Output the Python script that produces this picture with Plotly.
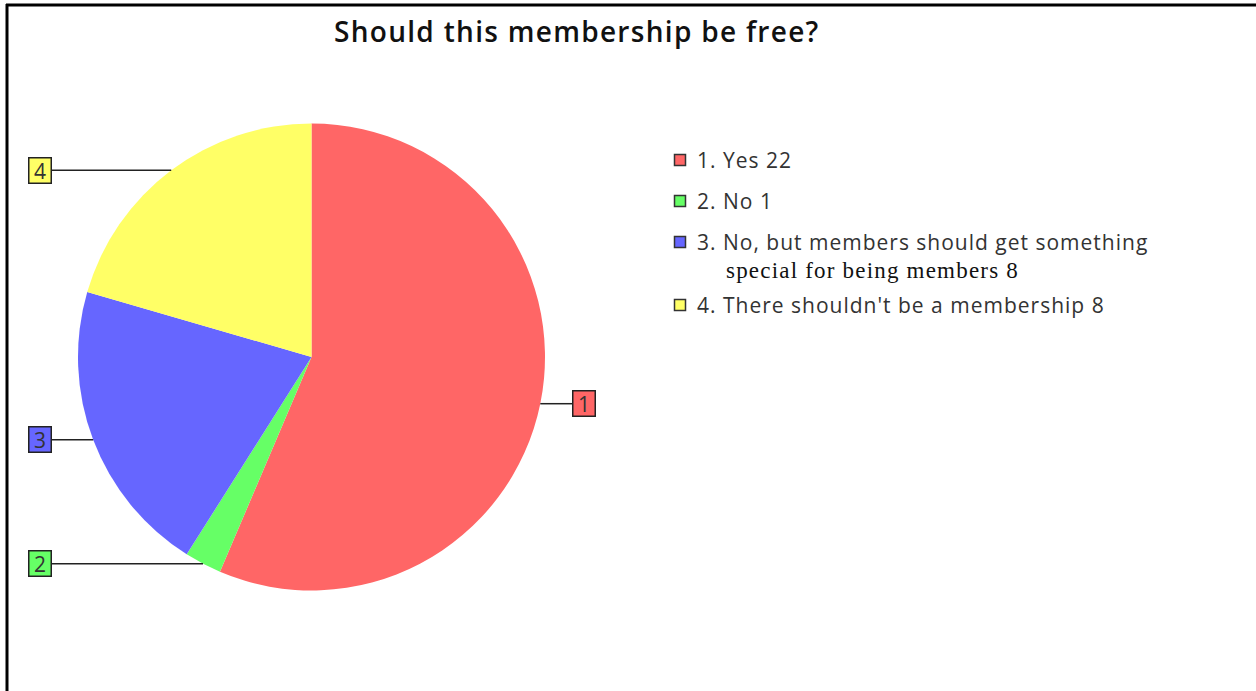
import math
import plotly.graph_objects as go

# Survey answers and counts
labels = [
    "1. Yes",
    "2. No",
    ["3. No, but members should get something", "special for being members"],
    "4. There shouldn't be a membership",
]
values = [22, 1, 8, 8]
tags = ["1", "2", "3", "4"]
colors = ["#FF6666", "#66FF66", "#6666FF", "#FFFF66"]

W, H = 1256, 691
CX, CY, R = 311.5, 357, 233.5  # pie centre / radius in pixels


def px(x):
    return x / W


def py(y):
    return 1 - y / H


def spaced(text, sp):
    return f'<span style="letter-spacing:{sp}px">{text}</span>'


fig = go.Figure()

fig.add_trace(go.Pie(
    values=values,
    labels=[l if isinstance(l, str) else " ".join(l) for l in labels],
    marker=dict(colors=colors, line=dict(width=0)),
    sort=False,
    direction="clockwise",
    rotation=0,
    textinfo="none",
    hoverinfo="label+value",
    showlegend=False,
    domain=dict(x=[px(CX - R), px(CX + R)], y=[py(CY + R), py(CY - R)]),
))

shapes = []
annotations = []

# Numbered callouts attached to the middle of each slice
total = sum(values)
start = 0.0
for tag, val, col in zip(tags, values, colors):
    mid = (start + val / 2) / total * 2 * math.pi
    start += val
    ax = CX + R * math.sin(mid)
    ay = CY - R * math.cos(mid)
    if ax >= CX:
        bx = CX + R + 39
        edge = bx - 12
    else:
        bx = 40
        edge = bx + 12
    shapes.append(dict(type="line", xref="paper", yref="paper",
                       x0=px(ax), y0=py(ay), x1=px(edge), y1=py(ay),
                       line=dict(color="#222222", width=1.5)))
    annotations.append(dict(
        x=px(bx), y=py(ay), xref="paper", yref="paper",
        text=tag, showarrow=False, xanchor="center", yanchor="middle",
        width=21, height=24, bgcolor=col, bordercolor="#222222",
        borderwidth=1.5, borderpad=0,
        font=dict(family="Open Sans", size=21, color="#333333"),
    ))

# Legend drawn as squares with text
leg_y = [160, 201, 242, 305]
for lab, val, col, y in zip(labels, values, colors, leg_y):
    shapes.append(dict(type="rect", xref="paper", yref="paper",
                       x0=px(674.5), x1=px(685.5), y0=py(y - 5.5), y1=py(y + 5.5),
                       fillcolor=col, line=dict(color="#333333", width=1.5)))
    first = lab if isinstance(lab, str) else lab[0]
    txt = f"{first} {val}" if isinstance(lab, str) else first
    annotations.append(dict(
        x=px(695), y=py(y), xref="paper", yref="paper",
        text=spaced(txt, 1.0), showarrow=False, xanchor="left", yanchor="middle",
        font=dict(family="Open Sans", size=21, color="#333333"),
    ))
    if not isinstance(lab, str):
        annotations.append(dict(
            x=px(724), y=py(y + 28), xref="paper", yref="paper",
            text=spaced(f"{lab[1]} {val}", 1.2), showarrow=False,
            xanchor="left", yanchor="middle",
            font=dict(family="Liberation Serif", size=23, color="#111111"),
        ))

# Frame on the top and left edges
shapes.append(dict(type="line", xref="paper", yref="paper",
                   x0=px(6), x1=1, y0=py(5), y1=py(5),
                   line=dict(color="black", width=3)))
shapes.append(dict(type="line", xref="paper", yref="paper",
                   x0=px(7), x1=px(7), y0=py(4), y1=0,
                   line=dict(color="black", width=3)))

annotations.append(dict(
    x=px(577), y=py(31), xref="paper", yref="paper",
    text=spaced("Should this membership be free?", 1.3), showarrow=False,
    xanchor="center", yanchor="middle",
    font=dict(family="Open Sans", size=28, color="#111111", weight=600),
))

fig.update_layout(
    width=W, height=H,
    margin=dict(l=0, r=0, t=0, b=0),
    paper_bgcolor="white",
    plot_bgcolor="white",
    shapes=shapes,
    annotations=annotations,
)

fig.write_html("out.html")
